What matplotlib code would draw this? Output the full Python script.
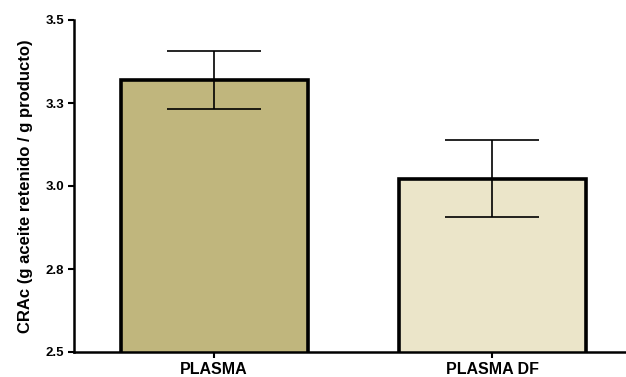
import matplotlib
matplotlib.use('Agg')
import matplotlib.pyplot as plt
from matplotlib.ticker import FuncFormatter
from decimal import Decimal, ROUND_HALF_UP

plt.rcParams['font.family'] = ['Liberation Sans', 'DejaVu Sans']

# datos: media y desviación de CRAc
muestras = ['PLASMA', 'PLASMA DF']
crac_media = [3.32, 3.022]
crac_error = [0.087, 0.116]
colores = ['#C0B67D', '#EBE5C9']
ticks_y = [2.5, 2.75, 3.0, 3.25, 3.5]


def un_decimal(v, pos):
    # redondeo "hacia arriba" (3.25 -> 3.3)
    return str(Decimal(str(float(v))).quantize(Decimal('0.1'), rounding=ROUND_HALF_UP))


fig = plt.figure(figsize=(6.26, 3.77), dpi=100)
ax = fig.add_axes([74/626, 25/377, 552/626, 332/377])

x = range(len(muestras))
ax.bar(x, crac_media, width=0.673, color=colores, edgecolor='black', linewidth=2.6, zorder=2)
ax.errorbar(x, crac_media, yerr=crac_error, fmt='none', ecolor='black',
            elinewidth=1.2, capsize=33.5, capthick=1.2, zorder=3)

ax.set_ylim(2.5, 3.5)
ax.set_xlim(-0.504, 1.482)
ax.set_yticks(ticks_y)
ax.yaxis.set_major_formatter(FuncFormatter(un_decimal))
ax.set_xticks(list(x))
ax.set_xticklabels(muestras, fontsize=11.5, fontweight='bold')
for lbl in ax.get_yticklabels():
    lbl.set_fontweight('bold')
    lbl.set_fontsize(9.5)
ax.set_ylabel('CRAc (g aceite retenido / g producto)', fontsize=12, fontweight='bold')
ax.yaxis.set_label_coords(-0.074, 0.5)

ax.spines['top'].set_visible(False)
ax.spines['right'].set_visible(False)
ax.spines['left'].set_linewidth(1.8)
ax.spines['bottom'].set_linewidth(1.8)
ax.tick_params(axis='both', direction='out', length=4, width=1.5, pad=3)

plt.savefig('out.png', dpi=100)
plt.close()
